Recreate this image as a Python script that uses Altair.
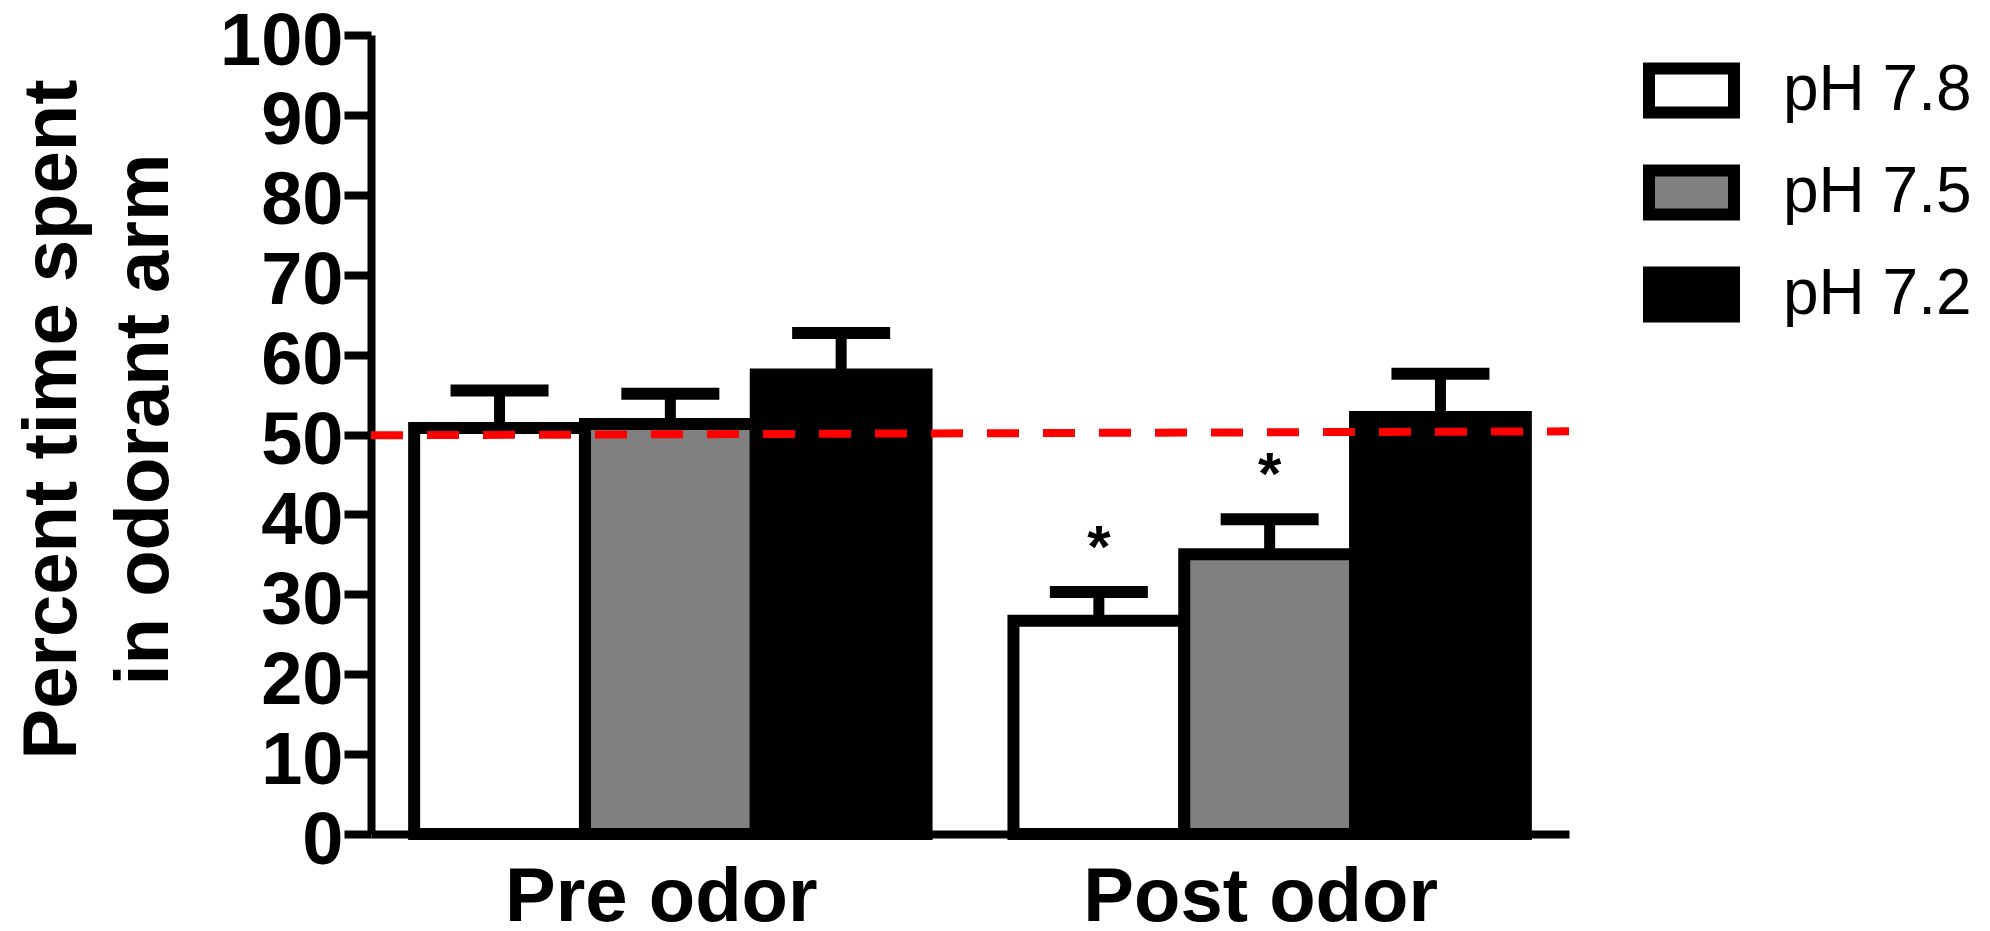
import altair as alt
import pandas as pd

# ---- data ----
groups = ["Pre odor", "Post odor"]
ph_levels = ["pH 7.8", "pH 7.5", "pH 7.2"]
pre_mean = [50.8, 51.3, 57.5]
pre_sem = [4.7, 3.8, 5.2]
post_mean = [26.7, 35.0, 52.2]
post_sem = [3.6, 4.4, 5.4]
pre_sig = ["", "", ""]
post_sig = ["*", "*", ""]
chance_line = [49.9, 50.4]  # left end, right end of the dashed reference line
fill_colors = ["#ffffff", "#808080", "#000000"]

rows = []
for g, means, sems, sigs in zip(groups, [pre_mean, post_mean], [pre_sem, post_sem], [pre_sig, post_sig]):
    for ph, m, s, sig in zip(ph_levels, means, sems, sigs):
        rows.append(dict(group=g, ph=ph, mean=m, upper=round(m + s, 2), sig=sig))
df = pd.DataFrame(rows)
chance_df = pd.DataFrame({"y": [chance_line[0]], "y2": [chance_line[1]]})

W, H = 1198, 799
FONT = "Liberation Sans"

x_enc = alt.X(
    "group:N",
    sort=groups,
    scale=alt.Scale(paddingInner=0.145, paddingOuter=0.072),
    axis=alt.Axis(
        title=None, labelAngle=0, labelFont=FONT, labelFontSize=76,
        labelFontWeight="bold", labelColor="black", ticks=False, tickSize=0,
        labelPadding=86, labelBaseline="alphabetic", labelOffset=-9,
        labelLimit=0, labelOverlap=False,
        domainColor="black", domainWidth=8,
    ),
)
xoff = alt.XOffset("ph:N", sort=ph_levels, scale=alt.Scale(paddingInner=0, paddingOuter=0))

y_axis = alt.Axis(
    values=list(range(0, 101, 10)),
    title=["Percent time spent", "in odorant arm"],
    titleFont=FONT, titleFontSize=76, titleFontWeight="bold", titleColor="black",
    titleAngle=270, titleAlign="center", titleBaseline="alphabetic",
    titleX=-296, titleY=384, titleLineHeight=92,
    labelFont=FONT, labelFontSize=74, labelFontWeight="bold", labelColor="black",
    labelPadding=1, labelOverlap=False, labelOffset=7,
    tickSize=27, tickWidth=8, tickColor="black",
    domainColor="black", domainWidth=8,
)
y_scale = alt.Scale(domain=[0, 100], nice=False, zero=True)


def yq(field):
    return alt.Y(field, scale=y_scale, axis=y_axis)


color = alt.Color(
    "ph:N",
    sort=ph_levels,
    scale=alt.Scale(domain=ph_levels, range=fill_colors),
    legend=alt.Legend(
        title=None, orient="none", legendX=1272, legendY=7,
        symbolType="M-1,-0.5176L1,-0.5176L1,0.5176L-1,0.5176Z",
        symbolSize=7225, symbolStrokeColor="black", symbolStrokeWidth=12,
        symbolOpacity=1,
        labelFont=FONT, labelFontSize=64, labelColor="black",
        labelOffset=43, labelLimit=600, labelBaseline="middle",
        rowPadding=7, padding=0,
    ),
)

base = alt.Chart(df)

bars = base.mark_bar(stroke="black", strokeWidth=12, opacity=1).encode(
    x=x_enc, xOffset=xoff, y=yq("mean:Q"), color=color
)
stems = base.mark_rule(color="black", strokeWidth=11).encode(
    x=x_enc, xOffset=xoff, y=yq("mean:Q"), y2="upper:Q"
)
caps = base.mark_tick(color="black", thickness=12, size=98, orient="horizontal", opacity=1).encode(
    x=x_enc, xOffset=xoff, y=yq("upper:Q")
)
stars = base.transform_filter("datum.sig != ''").mark_text(
    font=FONT, fontSize=60, fontWeight="bold", color="black",
    baseline="alphabetic", align="center", dy=-25,
).encode(x=x_enc, xOffset=xoff, y=yq("upper:Q"), text="sig:N")

chance = alt.Chart(chance_df).mark_rule(
    color="#ff0000", strokeWidth=8, strokeDash=[32, 24]
).encode(x=alt.value(0), x2=alt.value(W), y=yq("y:Q"), y2="y2:Q")

chart = (
    alt.layer(bars, stems, caps, stars, chance)
    .properties(
        width=W, height=H,
        padding={"left": 363, "top": 27, "right": 413, "bottom": 89},
        autosize=alt.AutoSizeParams(type="none"),
        background="white",
    )
    .configure_view(stroke=None)
    .configure_axis(grid=False)
)

chart.save("out.html", embed_options={"renderer": "svg", "actions": False})
